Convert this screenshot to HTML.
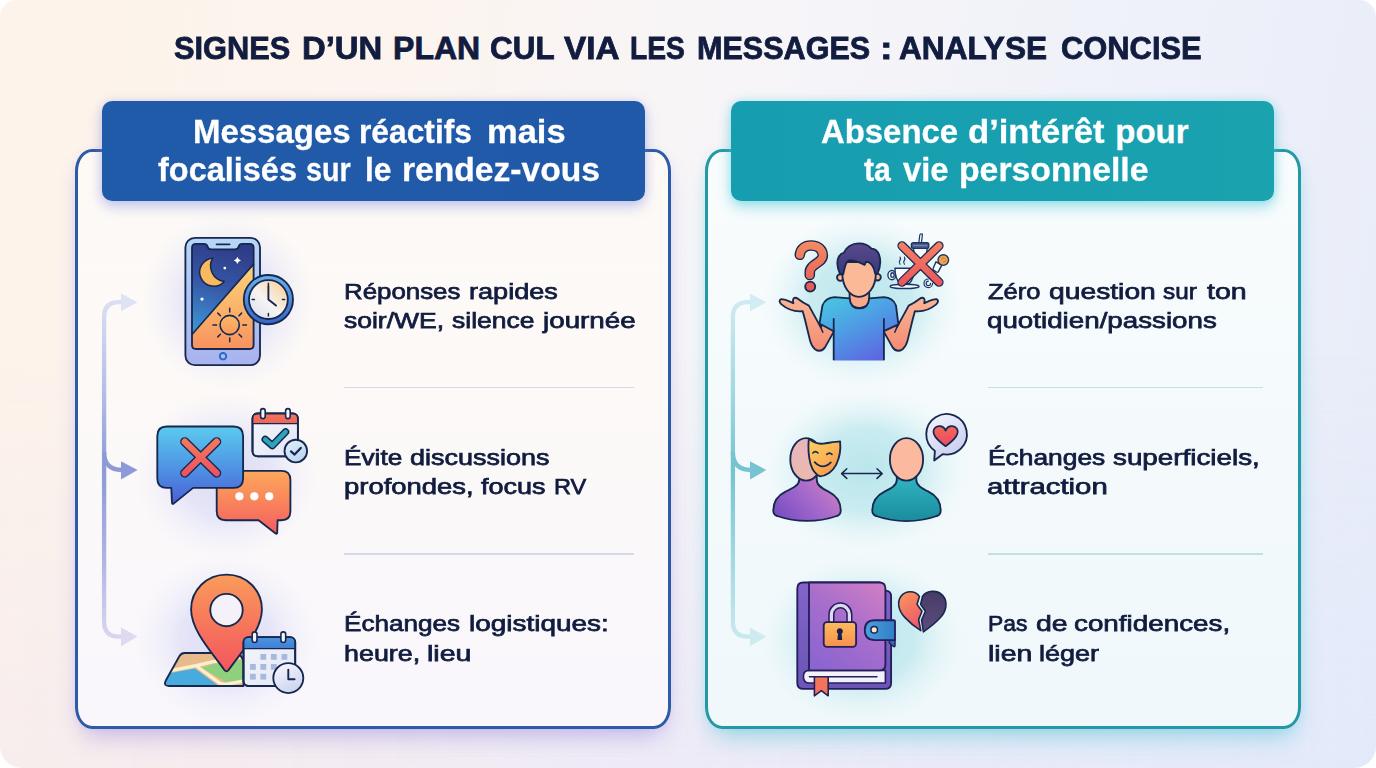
<!DOCTYPE html>
<html lang="fr">
<head>
<meta charset="utf-8">
<title>Signes d'un plan cul via les messages</title>
<style>
html,body{margin:0;padding:0;}
body{width:1376px;height:768px;overflow:hidden;background:#ffffff;font-family:"Liberation Sans",sans-serif;position:relative;}
#page{position:absolute;left:0;top:0;width:1376px;height:768px;border-radius:17px 17px 22px 22px;overflow:hidden;
 background:linear-gradient(100deg,#fdf3ea 0%,#fcf4ee 25%,#f7f5f8 50%,#eef1f9 78%,#e8ecf9 100%);}
#page .tint{position:absolute;left:0;top:0;width:100%;height:100%;background:linear-gradient(90deg,rgba(243,232,238,0.55) 0%,rgba(232,228,246,0.6) 50%,rgba(224,233,251,0.7) 100%);-webkit-mask-image:linear-gradient(180deg,rgba(0,0,0,0) 45%,rgba(0,0,0,1) 100%);mask-image:linear-gradient(180deg,rgba(0,0,0,0) 45%,rgba(0,0,0,1) 100%);}
.tx{position:absolute;white-space:nowrap;line-height:1;transform-origin:0 0;margin:0;padding:0;}
.card{position:absolute;box-sizing:border-box;border-radius:17px / 22px;}
.hdr{position:absolute;border-radius:10px;}
.sep{position:absolute;height:1.6px;}
svg{position:absolute;overflow:visible;}
</style>
</head>
<body>
<div id="page">
<div class="tint"></div>

<!-- left card -->
<div class="card" style="left:75.2px;top:149.2px;width:596px;height:580.3px;border:3px solid #2c5ba7;background:linear-gradient(180deg,#fdfaf6 0%,#fcf9f7 40%,#faf8fa 75%,#f9f7fc 100%);box-shadow:0 14px 24px -8px rgba(135,115,215,0.46),0 0 9px rgba(185,170,228,0.13);"></div>
<div class="hdr" style="left:101.6px;top:100.5px;width:543px;height:100.2px;background:linear-gradient(90deg,#205ba9,#2159a9);box-shadow:0 6px 14px rgba(110,120,220,0.36),0 0 8px rgba(150,160,230,0.26);"></div>
<!-- right card -->
<div class="card" style="left:704.6px;top:149.2px;width:596px;height:580.3px;border:3px solid #2398a6;background:linear-gradient(180deg,#f9fcfd 0%,#f4fafc 50%,#f0f8fb 100%);box-shadow:0 14px 24px -8px rgba(70,190,210,0.55),0 0 9px rgba(120,210,225,0.16);"></div>
<div class="hdr" style="left:731.2px;top:100.5px;width:543px;height:100px;background:linear-gradient(90deg,#179db0,#1aa2af);box-shadow:0 6px 14px rgba(60,195,212,0.46),0 0 8px rgba(110,215,230,0.36);"></div>
<!-- separators -->
<div class="sep" style="left:344px;top:386.5px;width:290px;background:#d6d8ec;"></div>
<div class="sep" style="left:344px;top:553.4px;width:290px;background:#d6d8ec;"></div>
<div class="sep" style="left:988px;top:386.7px;width:275px;background:#c4dfe6;"></div>
<div class="sep" style="left:988px;top:553.4px;width:275px;background:#c4dfe6;"></div>
<!-- connector arrows -->
<svg width="1376" height="768" viewBox="0 0 1376 768" style="left:0;top:0">
<defs>
<linearGradient id="gl" gradientUnits="userSpaceOnUse" x1="0" y1="292" x2="0" y2="648">
<stop offset="0" stop-color="#dfe1f5"/><stop offset="0.28" stop-color="#b4bee8"/><stop offset="0.5" stop-color="#8c9ad8"/><stop offset="0.72" stop-color="#aab0e4"/><stop offset="1" stop-color="#e0d9f1"/>
</linearGradient>
<linearGradient id="gr" gradientUnits="userSpaceOnUse" x1="0" y1="292" x2="0" y2="648">
<stop offset="0" stop-color="#d2edf2"/><stop offset="0.28" stop-color="#a2d8e2"/><stop offset="0.5" stop-color="#76c3d1"/><stop offset="0.72" stop-color="#9dd6e0"/><stop offset="1" stop-color="#cdebf1"/>
</linearGradient>
</defs>
<g fill="none" stroke-width="4.3" stroke-linecap="butt">
<path d="M122 302.2 H119 Q104.1 302.2 104.1 317 V622 Q104.1 636.6 119 636.6 H122" stroke="url(#gl)"/>
<path d="M104.1 452 Q104.1 470 122 470" stroke="#8c9ad8"/>
<path d="M751 302.2 H748 Q732.9 302.2 732.9 317 V622 Q732.9 636.6 748 636.6 H751" stroke="url(#gr)"/>
<path d="M732.9 452 Q732.9 470 751 470" stroke="#76c3d1"/>
</g>
<path d="M121 293.6 L137.6 302.2 L121 311.2Z" fill="#dfe1f5"/>
<path d="M121 461.2 L137.6 470 L121 479.4Z" fill="#8c9ad8"/>
<path d="M121 627.6 L137.6 636.6 L121 646.2Z" fill="#e0d9f1"/>
<path d="M750 293.6 L766.4 302.2 L750 311.2Z" fill="#d2edf2"/>
<path d="M750 461.2 L766.4 470 L750 479.4Z" fill="#76c3d1"/>
<path d="M750 627.6 L766.4 636.6 L750 646.2Z" fill="#cdebf1"/>
</svg>

<svg width="1376" height="768" viewBox="0 0 1376 768" style="left:0;top:0">
<defs>
<radialGradient id="glowL" cx="0.5" cy="0.5" r="0.5">
<stop offset="0" stop-color="#cccdf4" stop-opacity="0.68"/><stop offset="0.5" stop-color="#d5d6f6" stop-opacity="0.55"/><stop offset="0.8" stop-color="#e0e0f8" stop-opacity="0.2"/><stop offset="1" stop-color="#e6e4f8" stop-opacity="0"/>
</radialGradient>
<linearGradient id="phBody" x1="0" y1="0" x2="0" y2="1"><stop offset="0" stop-color="#b7d6f6"/><stop offset="0.5" stop-color="#aec3f3"/><stop offset="1" stop-color="#a9b3ee"/></linearGradient>
<linearGradient id="night" gradientUnits="userSpaceOnUse" x1="225" y1="244" x2="200" y2="335"><stop offset="0" stop-color="#2f3c88"/><stop offset="0.45" stop-color="#3557a6"/><stop offset="1" stop-color="#3f9ad8"/></linearGradient>
<linearGradient id="day" gradientUnits="userSpaceOnUse" x1="0" y1="264" x2="0" y2="349"><stop offset="0" stop-color="#fdd27c"/><stop offset="0.5" stop-color="#fbb56a"/><stop offset="1" stop-color="#f7925f"/></linearGradient>
<linearGradient id="sun" x1="0" y1="0" x2="0" y2="1"><stop offset="0" stop-color="#fcb868"/><stop offset="1" stop-color="#f8995e"/></linearGradient>
<linearGradient id="ckRing" x1="0" y1="0" x2="0" y2="1"><stop offset="0" stop-color="#66b2ee"/><stop offset="1" stop-color="#3565c8"/></linearGradient>
<linearGradient id="ckFace" x1="0.1" y1="0.9" x2="0.9" y2="0.1"><stop offset="0" stop-color="#dfe3f1"/><stop offset="0.45" stop-color="#f6f3f2"/><stop offset="1" stop-color="#fbd39a"/></linearGradient>
<clipPath id="scr"><path d="M196 243.8 H204 Q206.8 243.8 207.3 246 Q208 249.3 211 249.3 H235.2 Q238.2 249.3 238.9 246 Q239.4 243.8 242.2 243.8 H249.6 Q253.6 243.8 253.6 247.8 V345 Q253.6 349 249.6 349 H196 Q192 349 192 345 V247.8 Q192 243.8 196 243.8Z"/></clipPath>
<linearGradient id="bubB" x1="0" y1="0" x2="0" y2="1"><stop offset="0" stop-color="#5ccaee"/><stop offset="0.5" stop-color="#4f97e4"/><stop offset="1" stop-color="#4b5fd6"/></linearGradient>
<linearGradient id="bubO" x1="0" y1="0" x2="0" y2="1"><stop offset="0" stop-color="#fca85b"/><stop offset="0.55" stop-color="#f8805c"/><stop offset="1" stop-color="#f45c60"/></linearGradient>
<linearGradient id="xRed" x1="0" y1="0" x2="0" y2="1"><stop offset="0" stop-color="#f3775e"/><stop offset="1" stop-color="#ec5560"/></linearGradient>
<linearGradient id="calHdR" x1="0" y1="0" x2="0" y2="1"><stop offset="0" stop-color="#f57a60"/><stop offset="1" stop-color="#ef6459"/></linearGradient>
<linearGradient id="calBody" x1="0" y1="0" x2="1" y2="1"><stop offset="0" stop-color="#f4f5fb"/><stop offset="1" stop-color="#e3e7f4"/></linearGradient>
<linearGradient id="ckSm" x1="0" y1="0" x2="0.6" y2="1"><stop offset="0" stop-color="#e6f0fb"/><stop offset="1" stop-color="#bcd6f0"/></linearGradient>
<linearGradient id="pin" x1="0" y1="0" x2="0" y2="1"><stop offset="0" stop-color="#fa9c5a"/><stop offset="0.5" stop-color="#f7775c"/><stop offset="1" stop-color="#f3565f"/></linearGradient>
<linearGradient id="calHdB" x1="0" y1="0" x2="0" y2="1"><stop offset="0" stop-color="#4f9be4"/><stop offset="1" stop-color="#3f7fd2"/></linearGradient>
<linearGradient id="ckLg" x1="0.2" y1="0" x2="0.7" y2="1"><stop offset="0" stop-color="#f7f7fd"/><stop offset="1" stop-color="#ccd2ee"/></linearGradient>
<clipPath id="mapc"><path d="M184.5 653 H232 Q243.5 653 243.5 664 V686 H169 Q163 686 165.8 680.5 L179.5 656 Q181.3 653 184.5 653Z"/></clipPath>
<clipPath id="cal2"><rect x="243.5" y="637.1" width="51.7" height="48.9" rx="5"/></clipPath>
<clipPath id="cal1"><rect x="252.5" y="413.5" width="45.4" height="42.8" rx="5"/></clipPath>
</defs>
<!-- ICON 1 : phone + clock -->
<ellipse cx="228" cy="300" rx="88" ry="90" fill="url(#glowL)"/>
<g stroke="#17284f" stroke-width="1.85" stroke-linejoin="round" stroke-linecap="round">
<rect x="185.4" y="237.8" width="74.6" height="127.3" rx="9.5" fill="url(#phBody)"/>
<g clip-path="url(#scr)" stroke="none">
<rect x="190" y="240" width="66" height="112" fill="url(#day)"/>
<path d="M190 240 H256 V261.4 L190 336.8Z" fill="url(#night)"/>
</g>
<path d="M192 334.5 L253.6 264.1" stroke-width="1.6" fill="none"/>
<path d="M196 243.8 H204 Q206.8 243.8 207.3 246 Q208 249.3 211 249.3 H235.2 Q238.2 249.3 238.9 246 Q239.4 243.8 242.2 243.8 H249.6 Q253.6 243.8 253.6 247.8 V345 Q253.6 349 249.6 349 H196 Q192 349 192 345 V247.8 Q192 243.8 196 243.8Z" fill="none"/>
<path d="M216.6 244.3 H229.6" stroke-width="1.8" fill="none"/>
<!-- moon -->
<path d="M212.7 258.2 A14 14 0 1 0 224.2 281.4 A15.5 15.5 0 0 1 212.7 258.2Z" fill="#f9b95e" stroke-width="1.5"/>
<!-- stars -->
<g stroke="none" fill="#ffffff">
<path d="M237.4 256.8 Q238 259.8 241 260.4 Q238 261 237.4 264 Q236.8 261 233.8 260.4 Q236.8 259.8 237.4 256.8Z"/>
<circle cx="224.8" cy="268.1" r="1.4"/><circle cx="202" cy="299.1" r="1.6"/>
</g>
<!-- sun -->
<circle cx="229.7" cy="325" r="9.6" fill="url(#sun)" stroke-width="1.6"/>
<g stroke-width="1.5" fill="none">
<path d="M229.7 311.9 V308.2 M229.7 338.1 V341.8 M216.6 325 H212.9 M242.8 325 H246.5 M220.4 315.7 L217.8 313.1 M239 315.7 L241.6 313.1 M220.4 334.3 L217.8 336.9 M239 334.3 L241.6 336.9"/>
</g>
<!-- home button -->
<circle cx="223" cy="356.2" r="3.2" fill="#9fc6f3" stroke="#2f64c8" stroke-width="1.9"/>
<!-- clock -->
<circle cx="268.4" cy="299.6" r="24.6" fill="url(#ckRing)"/>
<circle cx="268.4" cy="299.6" r="19.4" fill="url(#ckFace)" stroke-width="1.8"/>
<g stroke-width="1.5" fill="none">
<path d="M268.4 283.3 V285.6 M268.4 313.6 V315.9 M252.1 299.6 H254.4 M282.4 299.6 H284.7"/>
<path d="M268.4 286.2 V299.6 L276 305.6" stroke-width="1.9"/>
</g>
</g>
<!-- ICON 2 : bubbles + calendar -->
<ellipse cx="226" cy="476" rx="92" ry="84" fill="url(#glowL)"/>
<g stroke="#17284f" stroke-width="1.85" stroke-linejoin="round" stroke-linecap="round">
<!-- calendar -->
<rect x="252.5" y="413.5" width="45.4" height="42.8" rx="5" fill="url(#calBody)"/>
<g clip-path="url(#cal1)" stroke="none"><rect x="250" y="411" width="50" height="12.6" fill="url(#calHdR)"/></g>
<path d="M252.5 423.6 H297.9" stroke-width="1.4" fill="none"/>
<rect x="252.5" y="413.5" width="45.4" height="42.8" rx="5" fill="none"/>
<rect x="260.6" y="408.6" width="4.6" height="10" rx="2.3" fill="#f4f2fa" stroke-width="1.6"/>
<rect x="285.6" y="408.6" width="4.6" height="10" rx="2.3" fill="#f4f2fa" stroke-width="1.6"/>
<path d="M265.2 439.4 L272.3 445.6 L285.6 431.9" fill="none" stroke-width="7.4"/>
<path d="M265.2 439.4 L272.3 445.6 L285.6 431.9" fill="none" stroke="#2ba5bb" stroke-width="4.5"/>
<circle cx="295.8" cy="451" r="11.3" fill="url(#ckSm)"/>
<path d="M291 451.4 L294.6 454.6 L300.8 447.9" fill="none" stroke-width="2.2"/>
<!-- orange bubble -->
<path d="M225.7 470.8 H281.4 Q290.4 470.8 290.4 479.8 V511.2 Q290.4 520.2 281.4 520.2 H277.6 L277.2 532.4 Q277.1 534.6 275.3 533.2 L258.6 520.2 H225.7 Q216.7 520.2 216.7 511.2 V479.8 Q216.7 470.8 225.7 470.8Z" fill="url(#bubO)"/>
<g stroke="none" fill="#ffffff"><circle cx="239.4" cy="496.3" r="4.1"/><circle cx="254.3" cy="496.3" r="4.1"/><circle cx="269.3" cy="496.3" r="4.1"/></g>
<!-- blue bubble -->
<path d="M166.8 426.5 H233.6 Q243.1 426.5 243.1 436 V478.4 Q243.1 487.9 233.6 487.9 H193.1 L173.6 503.6 Q172 504.6 172 502.6 L171.3 487.9 H166.8 Q157.3 487.9 157.3 478.4 V436 Q157.3 426.5 166.8 426.5Z" fill="url(#bubB)"/>
<path d="M184.8 441.8 L216.6 473 M216.6 441.8 L184.8 473" fill="none" stroke-width="9.3"/>
<path d="M184.8 441.8 L216.6 473 M216.6 441.8 L184.8 473" fill="none" stroke="url(#xRed)" stroke-width="6.5"/>
</g>
<!-- ICON 3 : map pin + calendar -->
<ellipse cx="226" cy="640" rx="92" ry="86" fill="url(#glowL)"/>
<g stroke="#17284f" stroke-width="1.85" stroke-linejoin="round" stroke-linecap="round">
<!-- map -->
<g clip-path="url(#mapc)" stroke="none">
<rect x="160" y="650" width="90" height="40" fill="#e8b98a"/>
<path d="M160 675 L195 668.4 L220 687 H160Z" fill="#47abdd"/>
<path d="M202 668 L212.4 664.4 L246 659.4 V679.4 L225.4 681.8Z" fill="#8ed07e"/>
<path d="M160 672.6 L196 665.6 L213 661.6 L246 656.4 M196.4 666 L220.4 683.6 L226 684.4 L246 680.6" fill="none" stroke="#f9f1cd" stroke-width="3.2" stroke-linejoin="round"/>
</g>
<path d="M184.5 653 H232 Q243.5 653 243.5 664 V686 H169 Q163 686 165.8 680.5 L179.5 656 Q181.3 653 184.5 653Z" fill="none"/>
<!-- pin -->
<path d="M226.5 574.6 C246.5 574.6 261.9 590 261.9 609.4 C261.9 631 239.5 654 228.6 670 Q226.5 672.8 224.4 670 C213.5 654 191.1 631 191.1 609.4 C191.1 590 206.5 574.6 226.5 574.6Z" fill="url(#pin)"/>
<circle cx="226.5" cy="610" r="16.2" fill="#f4f2f8"/>
<!-- calendar -->
<rect x="243.5" y="637.1" width="51.7" height="48.9" rx="5" fill="url(#calBody)"/>
<g clip-path="url(#cal2)" stroke="none"><rect x="240" y="634" width="58" height="14.6" fill="url(#calHdB)"/></g>
<path d="M243.5 648.6 H295.2" stroke-width="1.4" fill="none"/>
<rect x="243.5" y="637.1" width="51.7" height="48.9" rx="5" fill="none"/>
<rect x="252.2" y="631.9" width="4.8" height="10.6" rx="2.4" fill="#f4f2fa" stroke-width="1.6"/>
<rect x="280.9" y="631.9" width="4.8" height="10.6" rx="2.4" fill="#f4f2fa" stroke-width="1.6"/>
<g stroke="none" fill="#a9b8de">
<rect x="260.4" y="654" width="5.8" height="5.8"/><rect x="270.9" y="654" width="5.8" height="5.8"/><rect x="281.5" y="654" width="5.8" height="5.8"/>
<rect x="250" y="664" width="5.8" height="5.8"/><rect x="260.4" y="664" width="5.8" height="5.8"/><rect x="270.9" y="664" width="5.8" height="5.8"/>
<rect x="250" y="673.8" width="5.8" height="5.8"/><rect x="260.4" y="673.8" width="5.8" height="5.8"/>
</g>
<circle cx="288.3" cy="678.1" r="15" fill="url(#ckLg)"/>
<path d="M288.3 669.6 V679.2 H294.6" fill="none" stroke-width="1.9"/>
</g>
</svg>

<svg width="1376" height="768" viewBox="0 0 1376 768" style="left:0;top:0">
<defs>
<radialGradient id="glowR" cx="0.5" cy="0.5" r="0.5">
<stop offset="0" stop-color="#b9e6ec" stop-opacity="1"/><stop offset="0.5" stop-color="#c1e9ee" stop-opacity="0.85"/><stop offset="0.8" stop-color="#d6f0f4" stop-opacity="0.35"/><stop offset="1" stop-color="#e2f4f7" stop-opacity="0"/>
</radialGradient>
<linearGradient id="hair" x1="0" y1="0" x2="0" y2="1"><stop offset="0" stop-color="#5b4a8c"/><stop offset="1" stop-color="#37397a"/></linearGradient>
<linearGradient id="shirt" gradientUnits="userSpaceOnUse" x1="840" y1="298" x2="872" y2="360"><stop offset="0" stop-color="#49c0e2"/><stop offset="0.5" stop-color="#4f98e4"/><stop offset="1" stop-color="#5c69e2"/></linearGradient>
<linearGradient id="arm" gradientUnits="userSpaceOnUse" x1="0" y1="298" x2="0" y2="352"><stop offset="0" stop-color="#fbb595"/><stop offset="1" stop-color="#f48a72"/></linearGradient>
<linearGradient id="qm" gradientUnits="userSpaceOnUse" x1="0" y1="241" x2="0" y2="292"><stop offset="0" stop-color="#f38c62"/><stop offset="1" stop-color="#e65a58"/></linearGradient>
<linearGradient id="xR2" x1="0" y1="0" x2="0" y2="1"><stop offset="0" stop-color="#f47e63"/><stop offset="1" stop-color="#ea585d"/></linearGradient>
<linearGradient id="bodyP" gradientUnits="userSpaceOnUse" x1="830" y1="482" x2="785" y2="522"><stop offset="0" stop-color="#c67dc4"/><stop offset="0.5" stop-color="#a066cc"/><stop offset="1" stop-color="#7c4fc2"/></linearGradient>
<linearGradient id="headP" x1="0" y1="0" x2="0" y2="1"><stop offset="0" stop-color="#e6b6bd"/><stop offset="1" stop-color="#ecb9ae"/></linearGradient>
<linearGradient id="mask" x1="0.1" y1="0" x2="0.8" y2="1"><stop offset="0" stop-color="#fdd062"/><stop offset="0.55" stop-color="#fbb355"/><stop offset="1" stop-color="#f7904e"/></linearGradient>
<linearGradient id="bodyT" gradientUnits="userSpaceOnUse" x1="0" y1="480" x2="0" y2="522"><stop offset="0" stop-color="#2fb1be"/><stop offset="1" stop-color="#1a8b9d"/></linearGradient>
<linearGradient id="bubL" x1="0.2" y1="0" x2="0.8" y2="1"><stop offset="0" stop-color="#f1f3fc"/><stop offset="1" stop-color="#c3caee"/></linearGradient>
<linearGradient id="heart" x1="0" y1="0" x2="0" y2="1"><stop offset="0" stop-color="#f4675c"/><stop offset="1" stop-color="#ec4a5f"/></linearGradient>
<linearGradient id="cover" gradientUnits="userSpaceOnUse" x1="880" y1="585" x2="815" y2="668"><stop offset="0" stop-color="#cf7ec4"/><stop offset="0.45" stop-color="#a86ecc"/><stop offset="1" stop-color="#8a64d0"/></linearGradient>
<linearGradient id="spine" x1="0" y1="0" x2="0" y2="1"><stop offset="0" stop-color="#8464c8"/><stop offset="1" stop-color="#6a55b6"/></linearGradient>
<linearGradient id="lock" x1="0" y1="0" x2="0" y2="1"><stop offset="0" stop-color="#fcbc5c"/><stop offset="1" stop-color="#f78f4e"/></linearGradient>
<linearGradient id="clasp" x1="0" y1="0" x2="1" y2="0"><stop offset="0" stop-color="#4aa0dc"/><stop offset="1" stop-color="#2f7fc6"/></linearGradient>
<linearGradient id="hbL" x1="0" y1="0" x2="0.4" y2="1"><stop offset="0" stop-color="#fa9a5a"/><stop offset="1" stop-color="#ee5a6c"/></linearGradient>
<linearGradient id="hbR" x1="0" y1="0" x2="0" y2="1"><stop offset="0" stop-color="#473c68"/><stop offset="1" stop-color="#5d4b7e"/></linearGradient>
</defs>
<!-- ICON 4 : shrug -->
<ellipse cx="862" cy="302" rx="100" ry="88" fill="url(#glowR)"/>
<g stroke="#17284f" stroke-width="1.85" stroke-linejoin="round" stroke-linecap="round">
<!-- question mark -->
<path d="M799.8 254.8 C800.4 248.6 805 245.5 811 245.5 C818 245.5 822.8 249.6 822.8 255.6 C822.8 262.8 809.8 264.2 809.8 272 V275" fill="none" stroke-width="10.6" stroke-linecap="round"/>
<path d="M799.8 254.8 C800.4 248.6 805 245.5 811 245.5 C818 245.5 822.8 249.6 822.8 255.6 C822.8 262.8 809.8 264.2 809.8 272 V275" fill="none" stroke="url(#qm)" stroke-width="7.8" stroke-linecap="round"/>
<circle cx="810.2" cy="286.6" r="5" fill="#e65a58"/>
<!-- crossed items -->
<g stroke-width="1.4" fill="#f7fbfd" stroke="#1d3566">
<path d="M921.4 233.8 Q922.6 233.6 922.4 235 L921.4 242.8 H918.8 L919.8 235 Q920 233.8 921.4 233.8Z" stroke-width="1.2"/>
<path d="M913.4 248.4 H927.2 L925.4 264 H915.6Z"/>
<rect x="911.4" y="242.8" width="17.4" height="5.6" rx="1.8" fill="#4a5a8c"/>
<path d="M913.4 245.6 H926.8" stroke="#7f8db8" stroke-width="0.9" fill="none"/>
<ellipse cx="891.9" cy="275.1" rx="4" ry="4.6"/><ellipse cx="892.5" cy="275.1" rx="1.7" ry="2.3"/>
<path d="M894.9 268.3 H914.4 Q914.2 278.6 909.4 283.4 H899.8 Q895.1 278.6 894.9 268.3Z"/>
<ellipse cx="904.6" cy="286.4" rx="14.4" ry="2.1"/>
<path d="M900 264.2 Q898.4 262.4 899.8 260.6 Q901.2 258.8 900 257.2 M904.4 264.2 Q902.8 262.4 904.2 260.6 Q905.6 258.8 904.4 257.2" fill="none" stroke-width="1.2"/>
<path d="M936 261.8 L941.8 265.2 L938.4 271.6 Q937.6 272.8 936.4 272 L933.6 270.2 Q932.6 269.4 933.2 268.2Z"/>
<circle cx="943.3" cy="260.1" r="5.3" fill="#f0a350"/>
<path d="M941 259.4 Q942.4 257 944.6 258.2 M943.4 262 Q945.4 262.2 946 260.2" fill="none" stroke="#c27a34" stroke-width="1"/>
<path d="M932.6 283.4 A4.3 4.3 0 1 1 928.3 279 M930.6 283.4 A2.2 2.2 0 1 1 928.3 281.2" fill="none" stroke-width="1.2"/>
</g>
<path d="M902 245.8 L939 282.2 M939 245.8 L902 282.2" fill="none" stroke-width="9.3"/>
<path d="M902 245.8 L939 282.2 M939 245.8 L902 282.2" fill="none" stroke="url(#xR2)" stroke-width="6.7"/>
<!-- arms -->
<g id="armL">
<path d="M836 326 L833.4 332.4 L825 347.4 Q820.6 353.2 815 349.2 Q811.4 346.2 810 340.4 L805 319.8 L802.7 311.2 C796 311.9 787.6 309.6 781.4 304.4 Q777.8 300.8 781.2 299.2 C786 299.4 790 301.8 793.4 303.2 Q792.4 299.8 793.6 298.4 Q795.4 296.8 797.9 298.8 C800.8 301.2 804.6 303.6 808.9 305.6 L820.8 327.4 L824 321Z" fill="url(#arm)"/>
<path d="M819.6 324.6 L822.8 332.2" fill="none" stroke-width="1.5"/>
</g>
<use href="#armL" transform="translate(1717.6,0) scale(-1,1)"/>
<!-- neck -->
<path d="M849.6 293 V304 Q859 312 869.2 304 V293Z" fill="#f9a98a"/>
<!-- shirt -->
<path d="M849.6 298.4 Q850.4 308.4 859.4 308.4 Q868.4 308.4 869.2 298.4 L884 297.2 Q893 297.6 896 305.6 L898.4 324.4 L883.9 331.2 V360.4 H833.7 V331.2 L819.5 323.5 L822.4 305.6 Q825.6 297.6 834.4 297.2Z" fill="url(#shirt)" stroke="none"/>
<path d="M833.7 360.2 V331.2 L819.5 323.5 L822.4 305.6 Q825.6 297.6 834.4 297.2 L849.6 298.4 Q850.4 308.4 859.4 308.4 Q868.4 308.4 869.2 298.4 L884 297.2 Q893 297.6 896 305.6 L898.4 324.4 L883.9 331.2 V360.2" fill="none" stroke-linecap="butt"/>
<path d="M833.7 331.2 V318.8 M883.9 331.2 V318.8" fill="none" stroke-width="1.8"/>
<!-- head -->
<circle cx="840.3" cy="277.6" r="3.3" fill="#fbb696"/><circle cx="877.5" cy="277.2" r="3.3" fill="#fbb696"/>
<path d="M842.4 262 H875.8 V274 C875.8 286.4 868.4 296.8 859 296.8 C849.6 296.8 842.4 286.4 842.4 274Z" fill="#fcb998"/>
<path d="M839.8 273.6 C837.4 268 836.6 262 838.4 257.6 C839.8 254.4 841.6 253.2 843.8 252.8 C846 247 852 243.4 858.6 243.4 C864 243.4 868.6 245 871.4 248.6 C875 248.8 877.8 251.2 879 254.6 C881 260 880.4 267 877.6 273.4 L875.2 273.6 C874.6 270 873.6 267.2 871.8 265 C870 262.8 868 261.6 866.2 261.6 L864.6 264.8 C859.6 262.4 854.4 260.4 850 260.2 C847.2 261.4 845.8 263.2 845.2 266 C844.4 268.6 843.8 271.2 843.3 274Z" fill="url(#hair)"/>
</g>
<!-- ICON 5 : mask / people -->
<ellipse cx="866" cy="470" rx="104" ry="82" fill="url(#glowR)"/>
<g stroke="#17284f" stroke-width="1.85" stroke-linejoin="round" stroke-linecap="round">
<!-- left person -->
<path d="M799.2 474 V480 C799.2 485.5 792 488.5 785.5 491.6 C777 495.8 773.3 502 773.3 510.5 Q773.3 514.8 777.2 516 C796 522.6 818 522.6 836.8 516 Q840.7 514.8 840.7 510.5 C840.7 502 837 495.8 828.5 491.6 C822 488.5 816.8 485.5 816.8 480 V474Z" fill="url(#bodyP)"/>
<ellipse cx="806.2" cy="459.4" rx="15.9" ry="21.2" fill="url(#headP)"/>
<path d="M808.8 438.6 C813.6 442.8 818.6 444.2 823.4 443.6 C829.4 442.8 835 441.6 840.1 441.4 C840.9 449.4 839.8 457.4 836.2 464.6 C832.6 471.6 826.2 476.3 819.9 476.3 C815.4 474.4 812.3 470 810.5 463.8 C808.5 456.4 808 447.4 808.8 438.6Z" fill="url(#mask)"/>
<g fill="none" stroke-width="1.6">
<path d="M812.8 453 Q815.4 450.4 818 453 M826.8 454.4 Q829.4 451.8 832 454.4"/>
<path d="M814.7 462.2 Q822.6 470.6 830.8 462.4" stroke-width="1.8"/>
</g>
<!-- arrow -->
<g fill="none" stroke-width="1.5"><path d="M842.4 473.6 H881.4 M846.8 468.8 L841.6 473.6 L846.8 478.4 M877 468.8 L882.2 473.6 L877 478.4"/></g>
<!-- right person -->
<path d="M896.8 474 V480 C896.8 485.5 890.8 488.5 884.5 491.6 C876 495.8 872.3 502 872.3 510.5 Q872.3 514.8 876.2 516 C895 522.8 918 522.8 936.8 516 Q940.7 514.8 940.7 510.5 C940.7 502 937 495.8 928.5 491.6 C922.2 488.5 916.3 485.5 916.3 480 V474Z" fill="url(#bodyT)"/>
<ellipse cx="906.5" cy="459.4" rx="16.6" ry="21.2" fill="#fbb99f"/>
<!-- speech bubble -->
<path d="M934.2 460.4 L934.9 450.9 A20.3 20.3 0 1 1 942.6 454.2Z" fill="url(#bubL)"/>
<path d="M945.6 430.6 C947.6 425.4 954 424.6 956.8 428.6 C959.6 432.8 957 438 945.6 446.2 C934.2 438 931.6 432.8 934.4 428.6 C937.2 424.6 943.6 425.4 945.6 430.6Z" fill="url(#heart)" stroke-width="1.7"/>
</g>
<!-- ICON 6 : diary + broken heart -->
<ellipse cx="862" cy="640" rx="104" ry="86" fill="url(#glowR)"/>
<g stroke="#241f5c" stroke-width="1.85" stroke-linejoin="round" stroke-linecap="round">
<path d="M803.3 582.5 H880 V590.6 H885.4 Q891.1 590.6 891.1 596.6 V682.9 Q891.1 688.9 885.1 688.9 H803.3 Q797.3 688.9 797.3 682.9 V588.5 Q797.3 582.5 803.3 582.5Z" fill="url(#spine)"/>
<path d="M803.4 676.4 Q803.4 670.4 809.4 670.4 H885.4 V683 H809.4 Q803.4 683 803.4 676.4Z" fill="#f2f1fa" stroke-width="1.6"/>
<path d="M809.4 676.8 H877" fill="none" stroke-width="1.4"/>
<path d="M809 582.5 H879.4 Q885.4 582.5 885.4 588.5 V664.4 Q885.4 670.4 879.4 670.4 H809Z" fill="url(#cover)"/>
<path d="M814.4 676.8 H828.2 V695.8 L821.3 690.6 L814.4 695.8Z" fill="#f4745a" stroke-width="1.6"/>
<!-- clasp -->
<path d="M889.4 639 H895 V645.4 Q895 647.4 893.2 646.2 L889.4 643Z" fill="#2a6db6" stroke-width="1.5"/>
<path d="M895 640.1 V621.4 Q895 620.2 893.8 620.2 H874.7 Q864.8 620.2 864.8 630.1 Q864.8 640.1 874.7 640.1Z" fill="url(#clasp)"/>
<circle cx="874.2" cy="629.8" r="3.3" fill="#f3ecc6" stroke-width="1.5"/>
<!-- lock -->
<path d="M831.4 624 V614.4 A9 9 0 0 1 849.4 614.4 V624" fill="none" stroke-width="6.2"/>
<path d="M831.4 624 V614.4 A9 9 0 0 1 849.4 614.4 V624" fill="none" stroke="#ddd9f1" stroke-width="3.2"/>
<rect x="823.7" y="622.1" width="32.4" height="24.8" rx="3.2" fill="url(#lock)"/>
<path d="M839.8 628.2 A3.1 3.1 0 0 1 841.6 633.8 L842.2 640 H837.4 L838 633.8 A3.1 3.1 0 0 1 839.8 628.2Z" fill="#1b1d4a" stroke="none"/>
<!-- broken heart -->
<path d="M919.4 596.4 C915 590 905.6 590.4 901.2 596 C896.6 602 898.4 610.6 904.8 617.4 C909.4 622.4 915.6 627.4 920.8 630.6 L918.6 619.6 L922 611.2 L917 604.4Z" fill="url(#hbL)" stroke="#17284f" stroke-width="1.6"/>
<path d="M922.6 596.2 C926.8 590.2 937.4 589.6 942.8 595.6 C948.2 602 946.4 611 940.2 617.8 C935.4 623 928.4 628.4 923.4 631.8 L921.6 620 L925.4 611.2 L920.6 604.4Z" fill="url(#hbR)" stroke="#17284f" stroke-width="1.6"/>
</g>
</svg>

<div class="tx" style="left:174.14px;top:32.21px;font-size:32px;font-weight:bold;color:#111c3f;-webkit-text-stroke:0.8px #111c3f;transform:scaleX(0.9622)">SIGNES </div>
<div class="tx" style="left:302.05px;top:32.21px;font-size:32px;font-weight:bold;color:#111c3f;-webkit-text-stroke:0.8px #111c3f;transform:scaleX(1.0267)">D’UN </div>
<div class="tx" style="left:393.10px;top:32.21px;font-size:32px;font-weight:bold;color:#111c3f;-webkit-text-stroke:0.8px #111c3f;transform:scaleX(1.0000)">PLAN </div>
<div class="tx" style="left:490.42px;top:32.21px;font-size:32px;font-weight:bold;color:#111c3f;-webkit-text-stroke:0.8px #111c3f;transform:scaleX(0.9828)">CUL </div>
<div class="tx" style="left:563.90px;top:32.21px;font-size:32px;font-weight:bold;color:#111c3f;-webkit-text-stroke:0.8px #111c3f;transform:scaleX(1.0415)">VIA </div>
<div class="tx" style="left:630.14px;top:32.21px;font-size:32px;font-weight:bold;color:#111c3f;-webkit-text-stroke:0.8px #111c3f;transform:scaleX(0.8817)">LES </div>
<div class="tx" style="left:697.39px;top:32.21px;font-size:32px;font-weight:bold;color:#111c3f;-webkit-text-stroke:0.8px #111c3f;transform:scaleX(0.9547)">MESSAGES </div>
<div class="tx" style="left:879.86px;top:32.21px;font-size:32px;font-weight:bold;color:#111c3f;-webkit-text-stroke:0.8px #111c3f;transform:scaleX(1.1800)">: </div>
<div class="tx" style="left:899.40px;top:32.21px;font-size:32px;font-weight:bold;color:#111c3f;-webkit-text-stroke:0.8px #111c3f;transform:scaleX(0.9872)">ANALYSE </div>
<div class="tx" style="left:1060.54px;top:32.21px;font-size:32px;font-weight:bold;color:#111c3f;-webkit-text-stroke:0.8px #111c3f;transform:scaleX(0.9646)">CONCISE </div>
<div class="tx" style="left:193.10px;top:115.17px;font-size:33px;font-weight:bold;color:#ffffff;-webkit-text-stroke:0.3px #ffffff;transform:scaleX(0.9987)">Messages </div>
<div class="tx" style="left:359.38px;top:115.17px;font-size:33px;font-weight:bold;color:#ffffff;-webkit-text-stroke:0.3px #ffffff;transform:scaleX(0.9623)">réactifs </div>
<div class="tx" style="left:486.61px;top:115.17px;font-size:33px;font-weight:bold;color:#ffffff;-webkit-text-stroke:0.3px #ffffff;transform:scaleX(1.0444)">mais </div>
<div class="tx" style="left:158.40px;top:152.67px;font-size:33px;font-weight:bold;color:#ffffff;-webkit-text-stroke:0.3px #ffffff;transform:scaleX(0.9836)">focalisés </div>
<div class="tx" style="left:306.23px;top:152.67px;font-size:33px;font-weight:bold;color:#ffffff;-webkit-text-stroke:0.3px #ffffff;transform:scaleX(0.8700)">sur </div>
<div class="tx" style="left:365.37px;top:152.67px;font-size:33px;font-weight:bold;color:#ffffff;-webkit-text-stroke:0.3px #ffffff;transform:scaleX(0.9640)">le </div>
<div class="tx" style="left:402.06px;top:152.67px;font-size:33px;font-weight:bold;color:#ffffff;-webkit-text-stroke:0.3px #ffffff;transform:scaleX(1.0188)">rendez-vous </div>
<div class="tx" style="left:820.80px;top:115.17px;font-size:33px;font-weight:bold;color:#ffffff;-webkit-text-stroke:0.3px #ffffff;transform:scaleX(0.9963)">Absence </div>
<div class="tx" style="left:968.15px;top:115.17px;font-size:33px;font-weight:bold;color:#ffffff;-webkit-text-stroke:0.3px #ffffff;transform:scaleX(1.0488)">d’intérêt </div>
<div class="tx" style="left:1115.30px;top:115.17px;font-size:33px;font-weight:bold;color:#ffffff;-webkit-text-stroke:0.3px #ffffff;transform:scaleX(1.0000)">pour </div>
<div class="tx" style="left:863.50px;top:152.67px;font-size:33px;font-weight:bold;color:#ffffff;-webkit-text-stroke:0.3px #ffffff;transform:scaleX(0.9133)">ta </div>
<div class="tx" style="left:902.80px;top:152.67px;font-size:33px;font-weight:bold;color:#ffffff;-webkit-text-stroke:0.3px #ffffff;transform:scaleX(0.9933)">vie </div>
<div class="tx" style="left:958.85px;top:152.67px;font-size:33px;font-weight:bold;color:#ffffff;-webkit-text-stroke:0.3px #ffffff;transform:scaleX(1.0231)">personnelle </div>
<div class="tx" style="left:344.36px;top:279.58px;font-size:22.7px;font-weight:normal;color:#111c3f;-webkit-text-stroke:0.75px #111c3f;transform:scaleX(1.1396)">Réponses </div>
<div class="tx" style="left:469.01px;top:279.58px;font-size:22.7px;font-weight:normal;color:#111c3f;-webkit-text-stroke:0.75px #111c3f;transform:scaleX(1.1945)">rapides </div>
<div class="tx" style="left:344.40px;top:309.18px;font-size:22.7px;font-weight:normal;color:#111c3f;-webkit-text-stroke:0.75px #111c3f;transform:scaleX(1.1679)">soir/WE, </div>
<div class="tx" style="left:451.80px;top:309.18px;font-size:22.7px;font-weight:normal;color:#111c3f;-webkit-text-stroke:0.75px #111c3f;transform:scaleX(1.1686)">silence </div>
<div class="tx" style="left:542.93px;top:309.18px;font-size:22.7px;font-weight:normal;color:#111c3f;-webkit-text-stroke:0.75px #111c3f;transform:scaleX(1.2250)">journée </div>
<div class="tx" style="left:344.34px;top:445.78px;font-size:22.7px;font-weight:normal;color:#111c3f;-webkit-text-stroke:0.75px #111c3f;transform:scaleX(1.1551)">Évite </div>
<div class="tx" style="left:410.11px;top:445.78px;font-size:22.7px;font-weight:normal;color:#111c3f;-webkit-text-stroke:0.75px #111c3f;transform:scaleX(1.1897)">discussions </div>
<div class="tx" style="left:344.29px;top:475.38px;font-size:22.7px;font-weight:normal;color:#111c3f;-webkit-text-stroke:0.75px #111c3f;transform:scaleX(1.2095)">profondes, </div>
<div class="tx" style="left:480.60px;top:475.38px;font-size:22.7px;font-weight:normal;color:#111c3f;-webkit-text-stroke:0.75px #111c3f;transform:scaleX(1.1907)">focus </div>
<div class="tx" style="left:553.66px;top:475.38px;font-size:22.7px;font-weight:normal;color:#111c3f;-webkit-text-stroke:0.75px #111c3f;transform:scaleX(1.0400)">RV </div>
<div class="tx" style="left:344.35px;top:612.28px;font-size:22.7px;font-weight:normal;color:#111c3f;-webkit-text-stroke:0.75px #111c3f;transform:scaleX(1.1510)">Échanges </div>
<div class="tx" style="left:469.17px;top:612.28px;font-size:22.7px;font-weight:normal;color:#111c3f;-webkit-text-stroke:0.75px #111c3f;transform:scaleX(1.2315)">logistiques: </div>
<div class="tx" style="left:344.32px;top:642.48px;font-size:22.7px;font-weight:normal;color:#111c3f;-webkit-text-stroke:0.75px #111c3f;transform:scaleX(1.1839)">heure, </div>
<div class="tx" style="left:427.44px;top:642.48px;font-size:22.7px;font-weight:normal;color:#111c3f;-webkit-text-stroke:0.75px #111c3f;transform:scaleX(1.2576)">lieu </div>
<div class="tx" style="left:988.30px;top:279.58px;font-size:22.7px;font-weight:normal;color:#111c3f;-webkit-text-stroke:0.75px #111c3f;transform:scaleX(1.1239)">Zéro </div>
<div class="tx" style="left:1048.55px;top:279.58px;font-size:22.7px;font-weight:normal;color:#111c3f;-webkit-text-stroke:0.75px #111c3f;transform:scaleX(1.2452)">question </div>
<div class="tx" style="left:1163.10px;top:279.58px;font-size:22.7px;font-weight:normal;color:#111c3f;-webkit-text-stroke:0.75px #111c3f;transform:scaleX(1.0719)">sur </div>
<div class="tx" style="left:1207.40px;top:279.58px;font-size:22.7px;font-weight:normal;color:#111c3f;-webkit-text-stroke:0.75px #111c3f;transform:scaleX(1.2581)">ton </div>
<div class="tx" style="left:987.08px;top:309.18px;font-size:22.7px;font-weight:normal;color:#111c3f;-webkit-text-stroke:0.75px #111c3f;transform:scaleX(1.2230)">quotidien/passions </div>
<div class="tx" style="left:987.54px;top:445.78px;font-size:22.7px;font-weight:normal;color:#111c3f;-webkit-text-stroke:0.75px #111c3f;transform:scaleX(1.1620)">Échanges </div>
<div class="tx" style="left:1113.40px;top:445.78px;font-size:22.7px;font-weight:normal;color:#111c3f;-webkit-text-stroke:0.75px #111c3f;transform:scaleX(1.2254)">superficiels, </div>
<div class="tx" style="left:987.01px;top:475.38px;font-size:22.7px;font-weight:normal;color:#111c3f;-webkit-text-stroke:0.75px #111c3f;transform:scaleX(1.2934)">attraction </div>
<div class="tx" style="left:988.19px;top:612.28px;font-size:22.7px;font-weight:normal;color:#111c3f;-webkit-text-stroke:0.75px #111c3f;transform:scaleX(1.0079)">Pas </div>
<div class="tx" style="left:1035.85px;top:612.28px;font-size:22.7px;font-weight:normal;color:#111c3f;-webkit-text-stroke:0.75px #111c3f;transform:scaleX(1.2542)">de </div>
<div class="tx" style="left:1074.07px;top:612.28px;font-size:22.7px;font-weight:normal;color:#111c3f;-webkit-text-stroke:0.75px #111c3f;transform:scaleX(1.2256)">confidences, </div>
<div class="tx" style="left:987.95px;top:642.48px;font-size:22.7px;font-weight:normal;color:#111c3f;-webkit-text-stroke:0.75px #111c3f;transform:scaleX(1.2545)">lien </div>
<div class="tx" style="left:1038.81px;top:642.48px;font-size:22.7px;font-weight:normal;color:#111c3f;-webkit-text-stroke:0.75px #111c3f;transform:scaleX(1.1900)">léger </div>
</div>
</body>
</html>
